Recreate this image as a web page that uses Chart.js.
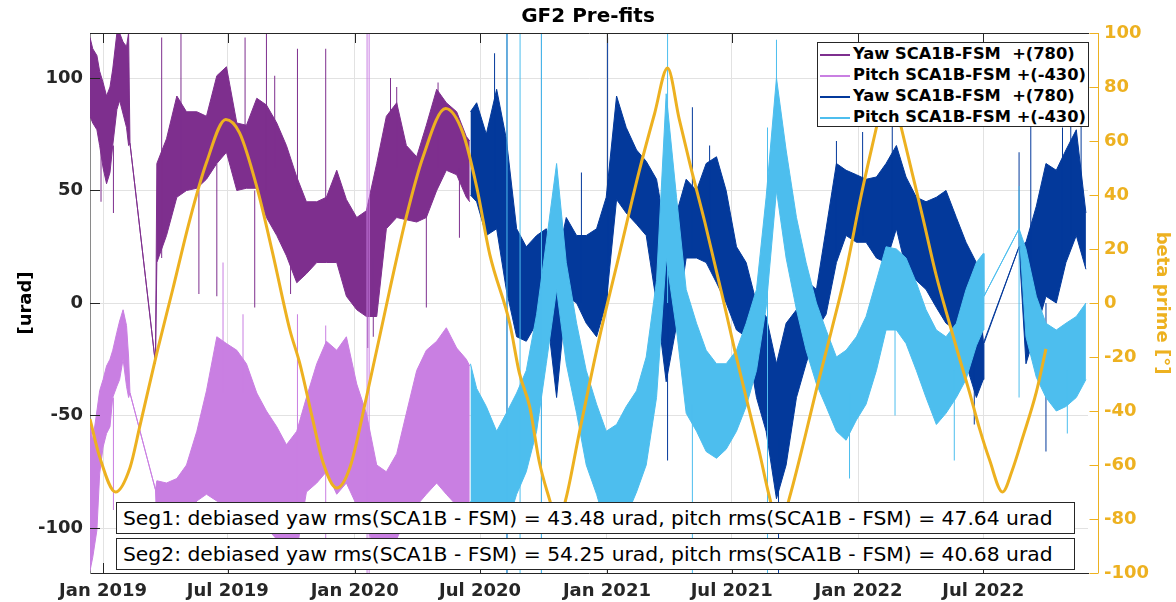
<!DOCTYPE html>
<html>
<head>
<meta charset="utf-8">
<script src="https://cdn.jsdelivr.net/npm/chart.js@4.4.1/dist/chart.umd.min.js"></script>
<style>
  html, body { margin: 0; padding: 0; background: #fff; }
  #wrap { position: relative; width: 1176px; height: 602px; }
  canvas { display: block; }
  .note {
    position: absolute; left: 116px; width: 959px; height: 32px; box-sizing: border-box;
    border: 1px solid #262626; background: #fff; padding-left: 6px;
    font: 20.3px "DejaVu Sans"; line-height: 30px; color: #000; white-space: pre;
  }
  #legend {
    position: absolute; left: 817px; top: 42px; width: 272px; height: 85px; box-sizing: border-box;
    border: 1px solid #262626; background: #fff; padding-top: 0px;
    font: bold 16.3px "DejaVu Sans"; color: #000;
  }
  #legend div { height: 21px; line-height: 21px; white-space: pre; }
  #legend span { display: inline-block; width: 30px; height: 2px; vertical-align: middle; margin: 0 3px 0 2px; }
</style>
</head>
<body>
<div id="wrap">
  <canvas id="chart" width="1176" height="602"></canvas>
  <div id="legend"></div>
  <div class="note" id="note1" style="top:502px"></div>
  <div class="note" id="note2" style="top:538px"></div>
</div>
<script>
// x axis: days since 1 Jan 2019
const tickDays = [0, 181, 365, 547, 731, 912, 1096, 1277];
const tickLabels = ['Jan 2019', 'Jul 2019', 'Jan 2020', 'Jul 2020', 'Jan 2021', 'Jul 2021', 'Jan 2022', 'Jul 2022'];
const leftTicks = [-100, -50, 0, 50, 100];
const rightTicks = [-100, -80, -60, -40, -20, 0, 20, 40, 60, 80, 100];

const seriesNames = ['Yaw SCA1B-FSM  +(780)', 'Pitch SCA1B-FSM +(-430)', 'Yaw SCA1B-FSM  +(780)', 'Pitch SCA1B-FSM +(-430)'];
const seriesColors = ['#7E2F8E', '#C97FE2', '#03399B', '#4DBEEE'];
const betaColor = '#EDB120';

const notes = [
  'Seg1: debiased yaw rms(SCA1B - FSM) = 43.48 urad, pitch rms(SCA1B - FSM) = 47.64 urad',
  'Seg2: debiased yaw rms(SCA1B - FSM) = 54.25 urad, pitch rms(SCA1B - FSM) = 40.68 urad'
];

// segment 1 (upper / lower edge of the noisy band)
const seg1Days = [-19, -15, -9, -5, 0, 5, 10, 14, 20, 24, 29, 34, 37, 39, 76,
  78, 92, 107, 121, 136, 150, 165, 179, 194, 208, 223, 237, 252, 266, 281, 295, 310, 324, 339, 353,
  368, 382, 397, 411, 426, 440, 455, 469, 484, 498, 513, 527, 532];
const yaw1Hi = [118, 113, 110, 103, 98, 92, 96, 104, 120, 120, 116, 114, 120, 71, -27,
  62, 73, 92, 85, 85, 83, 101, 105, 80, 79, 91, 88, 80, 70, 56, 45, 45, 47, 59, 46,
  38, 41, 62, 83, 89, 70, 65, 79, 95, 89, 85, 74, 72];
const yaw1Lo = [83, 80, 77, 70, 60, 53, 58, 70, 86, 90, 84, 78, 70, 71, -27,
  18, 30, 47, 50, 51, 55, 62, 67, 50, 51, 51, 38, 30, 21, 9, 13, 18, 18, 18, 3,
  -3, -6, -6, 33, 38, 37, 36, 38, 50, 59, 57, 47, 45];
const pitch1Hi = [-54, -61, -48, -39, -34, -28, -25, -21, -13, -8, -3, -10, -24, -40, -83,
  -79, -80, -78, -72, -57, -39, -15, -18, -21, -27, -40, -48, -55, -63, -57, -42, -27, -17, -21, -15,
  -36, -49, -72, -75, -67, -49, -30, -21, -17, -11, -20, -25, -28];
const pitch1Lo = [-119, -113, -101, -76, -64, -58, -55, -42, -37, -34, -25, -37, -42, -40, -83,
  -100, -100, -100, -95, -88, -85, -88, -90, -92, -95, -100, -100, -105, -110, -110, -84, -80, -75, -85, -80,
  -90, -100, -110, -110, -105, -95, -90, -85, -80, -85, -90, -95, -95];

// segment 2
const seg2Days = [533, 542, 556, 571, 585, 600, 614, 629, 643, 658, 672, 687, 701, 716, 730, 745, 759, 774,
  788, 803, 817, 832, 846, 861, 875, 890, 904, 919, 933, 948, 962, 977, 991, 1006, 1020, 1035, 1049,
  1064, 1078, 1093, 1107, 1122, 1136, 1151, 1165, 1180, 1194, 1209, 1223, 1238, 1252, 1267, 1277,
  1278, 1329, 1339, 1354, 1368, 1383, 1397, 1412, 1426];
const yaw2Hi = [85, 89, 75, 95, 73, 33, 25, 30, 33, 18, 38, 30, 30, 33, 47, 92, 78, 68,
  63, 55, 30, 40, 55, 50, 62, 65, 50, 25, 18, 0, -6, -27, -9, -3, 10, 6, 33,
  62, 59, 57, 55, 56, 62, 70, 56, 47, 45, 47, 50, 38, 27, 18, -18,
  -18, 25, 27, 43, 62, 59, 68, 77, 40];
const yaw2Lo = [48, 45, 30, 33, 6, -15, -17, -9, -2, -42, 3, 0, -9, -15, 0, 46, 40, 35,
  30, 0, -35, -10, 20, 20, 18, 9, 0, -12, -15, -42, -57, -87, -72, -42, -27, -12, -5,
  18, 30, 27, 27, 20, 18, 33, 15, 10, 6, -2, -9, -12, -27, -42, -34,
  -18, 25, -27, -12, 3, 0, 18, 30, 15];
const pitch2Hi = [-27, -38, -46, -57, -49, -40, -30, -5, 27, 62, 18, -9, -30, -45, -57, -54, -46, -39,
  -24, 10, 93, 47, 6, -9, -21, -27, -27, -21, -9, 6, 47, 100, 68, 38, 18, 0, -12,
  -24, -21, -15, -6, 10, 25, 24, 20, 9, -3, -12, -15, -9, 6, 18, 22,
  3, 33, 24, 3, -9, -12, -9, -6, 0];
const pitch2Lo = [-88, -92, -100, -100, -100, -85, -75, -57, -27, 6, -27, -49, -72, -85, -100, -100, -95, -84,
  -72, -42, 20, -12, -49, -57, -66, -69, -65, -57, -46, -30, -2, 50, 20, -3, -21, -36, -46,
  -57, -61, -52, -45, -30, -12, -12, -18, -30, -42, -54, -49, -42, -34, -19, -12,
  3, 33, -15, -33, -42, -48, -46, -42, -34];

// isolated spikes (day, low end, high end)
const yaw1SpikeDays = [-3, 15, 85, 113, 139, 165, 206, 220, 237, 249, 272, 282, 323, 384, 392, 417, 426, 469, 486, 517];
const yaw1SpikeLo = [45, 40, 20, 50, 4, 3, 60, -2, 50, 60, 4, 50, 45, -20, -15, 60, 60, -2, 60, 29];
const yaw1SpikeHi = [70, 70, 118, 120, 50, 62, 118, 50, 120, 101, 40, 113, 113, 20, 20, 100, 96, 40, 98, 60];
const pitch1SpikeDays = [15, 174, 203, 282, 323, 383, 386];
const pitch1SpikeLo = [-92, -40, -40, -100, -110, -120, -120];
const pitch1SpikeHi = [-42, 18, -5, -5, -10, 120, 120];
const yaw2SpikeDays = [568, 586, 636, 694, 732, 819, 855, 880, 980, 1064, 1102, 1145, 1264, 1329, 1346, 1368, 1392, 1404, 1419];
const yaw2SpikeLo = [50, -120, -120, 0, 0, -70, 20, 20, -120, 20, 30, 30, -54, 25, 10, -66, 20, 30, 30];
const yaw2SpikeHi = [111, 120, 120, 58, 118, 0, 87, 70, -60, 72, 76, 79, 0, 67, 79, 0, 78, 79, 79];
const pitch2SpikeDays = [586, 605, 636, 819, 855, 964, 977, 1083, 1149, 1235, 1329, 1399];
const pitch2SpikeLo = [-120, -120, -120, 0, -120, -120, 80, -78, -50, -70, -42, -58];
const pitch2SpikeHi = [120, 120, 120, 120, -45, 78, 117, -40, 22, -30, 52, -30];

// beta prime [deg]
const betaDays = [-19, -5, 18, 39, 53, 78, 101, 126, 150, 178, 198, 223, 246, 271, 285, 304, 319, 339, 358, 382,
  416, 440, 464, 497, 522, 542, 561, 590, 604, 619, 633, 648, 659, 672, 691, 720, 749, 778, 800, 819,
  836, 851, 873, 899, 916, 933, 952, 967, 981, 996, 1018, 1035, 1057, 1078, 1100, 1122, 1139, 1158, 1174, 1189,
  1209, 1228, 1242, 1257, 1271, 1286, 1305, 1319, 1334, 1354, 1368];
const betaVals = [-43, -57, -70, -61, -46, -18.5, 5, 31, 52, 68, 63, 43, 18.5, -10, -22, -43, -59, -68.5, -61, -35,
  5, 32, 54, 72, 63, 43, 18, -7.5, -26, -38.5, -59, -73, -82, -72, -48, -13, 18, 49, 70, 87,
  68, 52, 30, 2, -17, -35, -55, -72, -84, -72, -50, -32, -10, 12, 40, 65, 84, 65, 48, 32,
  10, -7.5, -20, -33, -46, -58, -70, -62, -50, -33, -17];

// Helpers.
const toPts = (days, vals) => days.map((d, i) => ({x: d, y: vals[i]}));

const spikePts = (days, lo, hi) => {
  const pts = [];
  days.forEach((d, i) => {
    pts.push({x: d, y: lo[i]}, {x: d, y: hi[i]}, {x: d, y: null});
  });
  return pts;
};

const band = (days, hi, lo, color, order) => [
  {data: toPts(days, hi), borderColor: color, backgroundColor: color, borderWidth: 1,
    pointRadius: 0, fill: false, order: order, yAxisID: 'y'},
  {data: toPts(days, lo), borderColor: color, backgroundColor: color, borderWidth: 1,
    pointRadius: 0, fill: '-1', order: order, yAxisID: 'y'}
];

const spikes = (days, lo, hi, color, order) => ({
  data: spikePts(days, lo, hi), borderColor: color, borderWidth: 1, pointRadius: 0,
  fill: false, spanGaps: false, order: order, yAxisID: 'y'
});

const datasets = [
  {data: toPts(betaDays, betaVals), borderColor: betaColor, borderWidth: 3, pointRadius: 0,
    fill: false, cubicInterpolationMode: 'monotone', order: 0, yAxisID: 'y2'},
  ...band(seg1Days, yaw1Hi, yaw1Lo, seriesColors[0], 4),
  spikes(yaw1SpikeDays, yaw1SpikeLo, yaw1SpikeHi, seriesColors[0], 3),
  ...band(seg1Days, pitch1Hi, pitch1Lo, seriesColors[1], 2),
  spikes(pitch1SpikeDays, pitch1SpikeLo, pitch1SpikeHi, seriesColors[1], 1),
  ...band(seg2Days, yaw2Hi, yaw2Lo, seriesColors[2], 4),
  spikes(yaw2SpikeDays, yaw2SpikeLo, yaw2SpikeHi, seriesColors[2], 3),
  ...band(seg2Days, pitch2Hi, pitch2Lo, seriesColors[3], 2),
  spikes(pitch2SpikeDays, pitch2SpikeLo, pitch2SpikeHi, seriesColors[3], 1)
];

const tickFont = {family: 'DejaVu Sans', size: 18, weight: 'bold'};
const axisInk = '#262626';

// inward tick marks, top box edge and the offset orange axis (MATLAB look)
const axesDecor = {
  id: 'axesDecor',
  afterDraw(chart) {
    const {ctx, chartArea: a, scales} = chart;
    ctx.save();
    ctx.lineWidth = 1;
    ctx.strokeStyle = axisInk;
    ctx.beginPath();
    ctx.moveTo(a.left, a.top + 0.5);
    ctx.lineTo(a.right + 1, a.top + 0.5);
    tickDays.forEach((d) => {
      const px = Math.round(scales.x.getPixelForValue(d)) + 0.5;
      ctx.moveTo(px, a.bottom);
      ctx.lineTo(px, a.bottom - 10);
      ctx.moveTo(px, a.top);
      ctx.lineTo(px, a.top + 10);
    });
    leftTicks.forEach((v) => {
      const py = Math.round(scales.y.getPixelForValue(v)) + 0.5;
      ctx.moveTo(a.left, py);
      ctx.lineTo(a.left + 10, py);
    });
    ctx.stroke();

    ctx.strokeStyle = betaColor;
    ctx.beginPath();
    const ox = a.right + 10.5;
    ctx.moveTo(ox, a.top);
    ctx.lineTo(ox, a.bottom);
    rightTicks.forEach((v) => {
      const py = Math.round(scales.y2.getPixelForValue(v)) + 0.5;
      ctx.moveTo(ox, py);
      ctx.lineTo(ox - 9, py);
    });
    ctx.stroke();
    ctx.restore();
  }
};

const chart = new Chart(document.getElementById('chart'), {
  type: 'line',
  data: {datasets: datasets},
  options: {
    responsive: false,
    animation: false,
    layout: {padding: 0},
    plugins: {
      legend: {display: false},
      tooltip: {enabled: false},
      title: {
        display: true, text: 'GF2 Pre-fits', color: '#000',
        font: {family: 'DejaVu Sans', size: 20, weight: 'bold'},
        padding: {top: 5, bottom: 4}
      }
    },
    scales: {
      x: {
        type: 'linear', min: -19, max: 1429,
        afterBuildTicks: (s) => { s.ticks = tickDays.map((v) => ({value: v})); },
        afterFit: (s) => { s.height = 29; },
        ticks: {
          callback: (v) => tickLabels[tickDays.indexOf(v)],
          font: tickFont, color: axisInk, padding: 8, maxRotation: 0, autoSkip: false
        },
        grid: {color: '#e2e2e2', drawTicks: false},
        border: {color: axisInk}
      },
      y: {
        position: 'left', min: -120, max: 120,
        afterBuildTicks: (s) => { s.ticks = leftTicks.map((v) => ({value: v})); },
        afterFit: (s) => { s.width = 90; },
        ticks: {font: tickFont, color: axisInk, padding: 7},
        grid: {color: '#e2e2e2', drawTicks: false},
        border: {color: '#8a8a8a'},
        title: {
          display: true, text: '[urad]', color: '#000',
          font: {family: 'DejaVu Sans', size: 18, weight: 'bold'},
          padding: {top: 16, bottom: 0}
        }
      },
      y2: {
        position: 'right', min: -100, max: 100,
        afterBuildTicks: (s) => { s.ticks = rightTicks.map((v) => ({value: v})); },
        afterFit: (s) => { s.width = 88; },
        ticks: {font: tickFont, color: betaColor, padding: 16},
        grid: {display: false, drawTicks: false},
        border: {display: false},
        title: {
          display: true, text: 'beta prime [°]', color: betaColor,
          font: {family: 'DejaVu Sans', size: 18, weight: 'bold'},
          padding: {top: 4, bottom: 0}
        }
      }
    }
  },
  plugins: [axesDecor]
});

// legend box
const legendBox = document.getElementById('legend');
seriesNames.forEach((name, i) => {
  const row = document.createElement('div');
  const swatch = document.createElement('span');
  swatch.style.background = seriesColors[i];
  row.appendChild(swatch);
  row.appendChild(document.createTextNode(name));
  legendBox.appendChild(row);
});

document.getElementById('note1').textContent = notes[0];
document.getElementById('note2').textContent = notes[1];
</script>
</body>
</html>
